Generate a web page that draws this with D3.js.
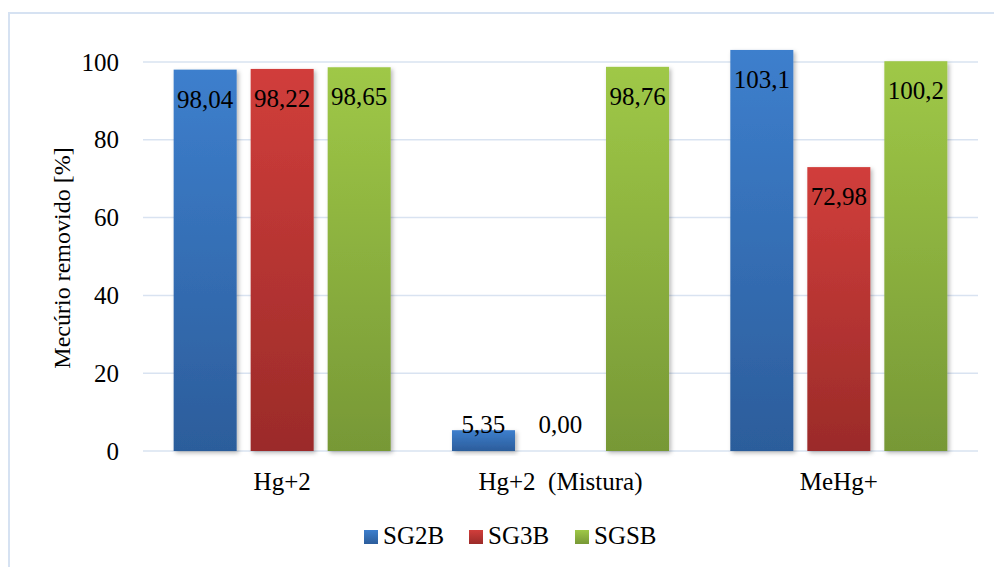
<!DOCTYPE html>
<html>
<head>
<meta charset="utf-8">
<script src="https://cdn.jsdelivr.net/npm/d3@7"></script>
</head>
<body style="margin:0">
<svg id="chart" width="994" height="567"></svg>
<script>
// Removal percentages per mercury species and adsorbent
const categories = ["Hg+2", "Hg+2  (Mistura)", "MeHg+"];
const seriesNames = ["SG2B", "SG3B", "SGSB"];
const sg2b = [98.04, 5.35, 103.1];
const sg3b = [98.22, 0.00, 72.98];
const sgsb = [98.65, 98.76, 100.2];
const yTicks = [0, 20, 40, 60, 80, 100];
const yTitle = "Mecúrio removido [%]";

const FONT = "Liberation Serif";
const seriesValues = [sg2b, sg3b, sgsb];
const colors = [
  { top: "#3d7fcd", bottom: "#2c5d9b" },
  { top: "#d13e3b", bottom: "#9b2b29" },
  { top: "#9fc847", bottom: "#779836" }
];

const svg = d3.select("#chart").style("font-family", FONT);
const W = 994, H = 567;
const plot = { left: 143, right: 978, top: 62, bottom: 451 };

// Outer frame
svg.append("rect")
  .attr("x", 9).attr("y", 13)
  .attr("width", W + 10).attr("height", H + 10)
  .attr("fill", "none")
  .attr("stroke", "#d6e2f2")
  .attr("stroke-width", 2);

const defs = svg.append("defs");
colors.forEach((c, i) => {
  const g = defs.append("linearGradient")
    .attr("id", "grad" + i)
    .attr("x1", 0).attr("y1", 0).attr("x2", 0).attr("y2", 1);
  g.append("stop").attr("offset", "0%").attr("stop-color", c.top);
  g.append("stop").attr("offset", "100%").attr("stop-color", c.bottom);
});
const shadow = defs.append("filter").attr("id", "shadow")
  .attr("x", "-20%").attr("y", "-20%").attr("width", "140%").attr("height", "140%");
shadow.append("feDropShadow")
  .attr("dx", 2).attr("dy", 2).attr("stdDeviation", 2)
  .attr("flood-color", "#000").attr("flood-opacity", 0.28);

const y = d3.scaleLinear().domain([0, 100]).range([plot.bottom, plot.top]);
const x0 = d3.scaleBand().domain(categories).range([plot.left, plot.right]).padding(0);
const x1 = d3.scaleBand().domain(seriesNames).range([0, x0.bandwidth()])
  .paddingInner(14 / 77).paddingOuter(0.398);

// Horizontal gridlines
svg.append("g").selectAll("line")
  .data(yTicks)
  .join("line")
  .attr("x1", plot.left).attr("x2", plot.right)
  .attr("y1", d => y(d)).attr("y2", d => y(d))
  .attr("stroke", "#d9e3f1")
  .attr("stroke-width", 1.5);

// Y axis labels
const yAxis = d3.axisLeft(y).tickValues(yTicks).tickSize(0).tickPadding(0);
const yg = svg.append("g")
  .attr("transform", `translate(${plot.left - 24},0)`)
  .call(yAxis)
  .attr("font-family", null);
yg.select(".domain").remove();
yg.selectAll("text")
  .style("font-family", FONT)
  .attr("font-size", 25)
  .attr("fill", "#000");

// Y axis title
svg.append("text")
  .attr("transform", "translate(70,258) rotate(-90)")
  .attr("text-anchor", "middle")
  .style("font-family", FONT)
  .attr("font-size", 24)
  .attr("fill", "#000")
  .text(yTitle);

// Bars
const fmt = v => (v >= 100 ? v.toFixed(1) : v.toFixed(2)).replace(".", ",");
const groups = svg.append("g").selectAll("g")
  .data(categories)
  .join("g")
  .attr("transform", d => `translate(${x0(d)},0)`);

groups.selectAll("rect")
  .data((d, ci) => seriesNames.map((s, si) => ({ s, si, v: seriesValues[si][ci] })))
  .join("rect")
  .filter(d => d.v > 0)
  .attr("x", d => x1(d.s))
  .attr("y", d => y(d.v))
  .attr("width", x1.bandwidth())
  .attr("height", d => y(0) - y(d.v))
  .attr("fill", d => `url(#grad${d.si})`)
  .attr("filter", "url(#shadow)");

groups.selectAll("text.val")
  .data((d, ci) => seriesNames.map((s, si) => ({ s, si, v: seriesValues[si][ci] })))
  .join("text")
  .attr("class", "val")
  .attr("x", d => x1(d.s) + x1.bandwidth() / 2)
  .attr("y", d => Math.min(y(d.v) + 38, y(0) - 18))
  .attr("text-anchor", "middle")
  .style("font-family", FONT)
  .attr("font-size", 25)
  .attr("fill", "#000")
  .text(d => fmt(d.v));

// Category labels
svg.append("g").selectAll("text")
  .data(categories)
  .join("text")
  .attr("x", d => x0(d) + x0.bandwidth() / 2)
  .attr("y", 490)
  .attr("text-anchor", "middle")
  .style("font-family", FONT)
  .attr("font-size", 25)
  .style("white-space", "pre")
  .attr("fill", "#000")
  .text(d => d);

// Legend
const legendX = [364, 469, 575];
const legend = svg.append("g").selectAll("g")
  .data(seriesNames)
  .join("g")
  .attr("transform", (d, i) => `translate(${legendX[i]},530)`);
legend.append("rect")
  .attr("width", 14).attr("height", 14)
  .attr("fill", (d, i) => `url(#grad${i})`);
legend.append("text")
  .attr("x", 19).attr("y", 14)
  .style("font-family", FONT)
  .attr("font-size", 25)
  .attr("fill", "#000")
  .text(d => d);
</script>
</body>
</html>
